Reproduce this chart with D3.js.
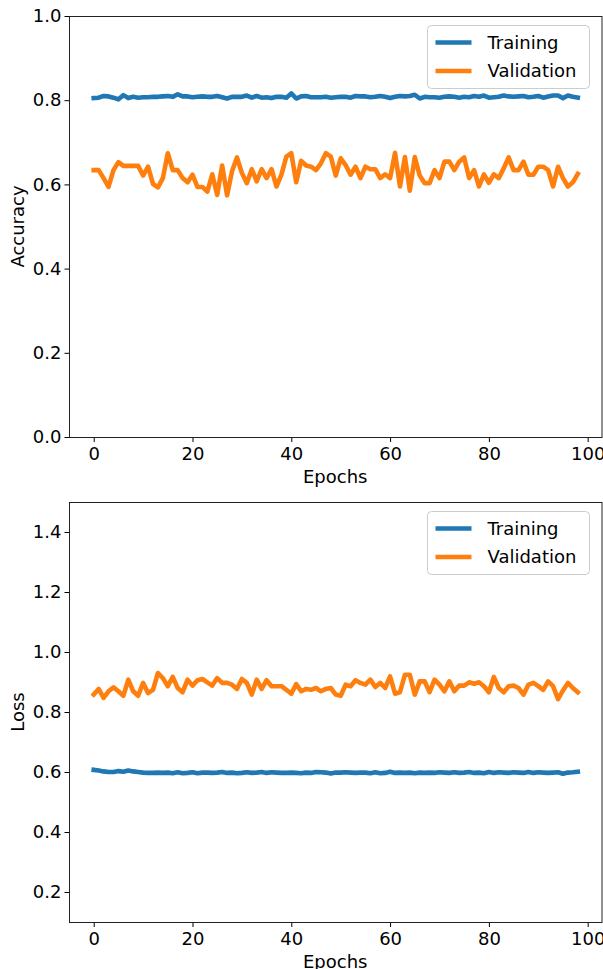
<!DOCTYPE html>
<html>
<meta charset="utf-8">
<head>
<style>
body { margin: 0; background: #fff; }
text { font-family: "DejaVu Sans", sans-serif; fill: #000; }
.tick text { font-size: 18px; }
.label { font-size: 18px; text-anchor: middle; }
.legend text { font-size: 18px; }
</style>
<script src="https://d3js.org/d3.v7.min.js"></script>
</head>
<body>
<svg width="603" height="969"></svg>
<script>
// training history, epochs 0..98
var epochs = d3.range(0, 99);

var trainAcc = [
  0.805, 0.806, 0.810, 0.809, 0.806, 0.802, 0.812, 0.805, 0.808, 0.806, 0.807, 0.807, 0.808, 0.808, 0.809, 0.810, 0.808, 0.814, 0.809, 0.809, 0.807, 0.808, 0.809, 0.808, 0.808,
  0.810, 0.807, 0.804, 0.808, 0.808, 0.808, 0.811, 0.806, 0.810, 0.806, 0.807, 0.805, 0.808, 0.808, 0.806, 0.816, 0.804, 0.809, 0.810, 0.807, 0.807, 0.807, 0.808, 0.806, 0.807,
  0.808, 0.808, 0.806, 0.810, 0.809, 0.809, 0.807, 0.808, 0.810, 0.808, 0.805, 0.808, 0.810, 0.809, 0.810, 0.813, 0.804, 0.808, 0.807, 0.807, 0.806, 0.808, 0.809, 0.808, 0.806,
  0.808, 0.807, 0.810, 0.808, 0.811, 0.806, 0.807, 0.808, 0.811, 0.809, 0.808, 0.809, 0.810, 0.807, 0.808, 0.810, 0.806, 0.809, 0.811, 0.811, 0.805, 0.811, 0.808, 0.806
];
var valAcc = [
  0.634, 0.634, 0.615, 0.594, 0.634, 0.653, 0.644, 0.644, 0.644, 0.644, 0.621, 0.642, 0.601, 0.593, 0.615, 0.674, 0.634, 0.634, 0.615, 0.605, 0.623, 0.594, 0.594, 0.583, 0.624,
  0.575, 0.645, 0.574, 0.631, 0.664, 0.627, 0.603, 0.636, 0.607, 0.636, 0.615, 0.636, 0.595, 0.623, 0.666, 0.674, 0.605, 0.656, 0.645, 0.642, 0.634, 0.650, 0.674, 0.666, 0.621,
  0.662, 0.646, 0.623, 0.642, 0.615, 0.642, 0.636, 0.636, 0.615, 0.624, 0.615, 0.675, 0.595, 0.665, 0.585, 0.665, 0.621, 0.603, 0.603, 0.634, 0.615, 0.654, 0.654, 0.634, 0.654,
  0.664, 0.615, 0.634, 0.595, 0.624, 0.604, 0.624, 0.615, 0.638, 0.664, 0.634, 0.634, 0.654, 0.623, 0.623, 0.642, 0.642, 0.634, 0.595, 0.642, 0.615, 0.595, 0.605, 0.625
];
var trainLoss = [
  0.607, 0.605, 0.602, 0.600, 0.600, 0.603, 0.601, 0.605, 0.602, 0.600, 0.598, 0.597, 0.597, 0.598, 0.597, 0.598, 0.596, 0.599, 0.596, 0.597, 0.599, 0.596, 0.598, 0.598, 0.597,
  0.598, 0.600, 0.597, 0.598, 0.596, 0.597, 0.599, 0.597, 0.598, 0.600, 0.597, 0.599, 0.598, 0.597, 0.597, 0.598, 0.597, 0.596, 0.598, 0.597, 0.600, 0.599, 0.598, 0.595, 0.598,
  0.598, 0.599, 0.598, 0.597, 0.598, 0.598, 0.596, 0.599, 0.596, 0.597, 0.601, 0.597, 0.598, 0.597, 0.598, 0.596, 0.598, 0.597, 0.598, 0.597, 0.599, 0.598, 0.597, 0.599, 0.597,
  0.598, 0.600, 0.597, 0.598, 0.596, 0.600, 0.597, 0.599, 0.598, 0.597, 0.599, 0.598, 0.597, 0.600, 0.597, 0.599, 0.598, 0.597, 0.598, 0.599, 0.594, 0.598, 0.599, 0.601
];
var valLoss = [
  0.858, 0.877, 0.847, 0.869, 0.882, 0.869, 0.854, 0.908, 0.869, 0.854, 0.897, 0.863, 0.874, 0.930, 0.913, 0.886, 0.917, 0.880, 0.866, 0.908, 0.888, 0.906, 0.910, 0.899, 0.888,
  0.913, 0.897, 0.897, 0.891, 0.877, 0.910, 0.897, 0.858, 0.908, 0.877, 0.906, 0.886, 0.886, 0.886, 0.874, 0.861, 0.893, 0.869, 0.877, 0.874, 0.880, 0.869, 0.877, 0.880, 0.858,
  0.854, 0.891, 0.886, 0.906, 0.897, 0.891, 0.908, 0.883, 0.897, 0.880, 0.919, 0.861, 0.866, 0.924, 0.924, 0.858, 0.902, 0.902, 0.866, 0.908, 0.891, 0.869, 0.902, 0.869, 0.888,
  0.888, 0.899, 0.894, 0.899, 0.886, 0.866, 0.917, 0.880, 0.866, 0.886, 0.888, 0.880, 0.858, 0.891, 0.897, 0.886, 0.874, 0.902, 0.886, 0.843, 0.872, 0.897, 0.880, 0.866
];

var seriesNames = ["Training", "Validation"];
var xTicks = [0, 20, 40, 60, 80, 100];
var accTicks = [0.0, 0.2, 0.4, 0.6, 0.8, 1.0];
var lossTicks = [0.2, 0.4, 0.6, 0.8, 1.0, 1.2, 1.4];

var colors = ["#1f77b4", "#ff7f0e"];
var svg = d3.select("svg");

function panel(top, bottom, ydomain, yticks, ylabel, train, val) {
  var left = 69.5, right = 602;
  var x = d3.scaleLinear().domain([-4.9, 102.9]).range([left, right]);
  var y = d3.scaleLinear().domain(ydomain).range([bottom, top]);
  var g = svg.append("g");

  var line = d3.line()
      .x(function(d, i) { return x(epochs[i]); })
      .y(function(d) { return y(d); });

  [train, val].forEach(function(s, k) {
    g.append("path")
        .datum(s)
        .attr("d", line)
        .attr("fill", "none")
        .attr("stroke", colors[k])
        .attr("stroke-width", 4.6)
        .attr("stroke-linejoin", "round")
        .attr("stroke-linecap", "square");
  });

  var xa = g.append("g")
      .attr("transform", "translate(0," + bottom + ")")
      .call(d3.axisBottom(x).tickValues(xTicks).tickFormat(d3.format("d")).tickSize(5).tickPadding(5));
  var ya = g.append("g")
      .attr("transform", "translate(" + left + ",0)")
      .call(d3.axisLeft(y).tickValues(yticks).tickFormat(d3.format(".1f")).tickSize(5).tickPadding(3));
  [xa, ya].forEach(function(a) {
    a.select(".domain").remove();
    a.selectAll(".tick line").attr("stroke", "#000").attr("stroke-width", 1);
    a.selectAll(".tick text").attr("fill", "#000");
  });

  g.append("rect")
      .attr("x", left).attr("y", top + 0.5)
      .attr("width", right - left).attr("height", bottom - top)
      .attr("fill", "none").attr("stroke", "#222").attr("stroke-width", 1);

  g.append("text").attr("class", "label")
      .attr("x", (left + right) / 2 - 0.5).attr("y", bottom + 46)
      .text("Epochs");
  g.append("text").attr("class", "label")
      .attr("transform", "translate(24," + (top + bottom) / 2 + ") rotate(-90)")
      .text(ylabel);

  // legend
  var lg = g.append("g").attr("class", "legend")
      .attr("transform", "translate(427.5," + (top + 9.5) + ")");
  lg.append("rect")
      .attr("width", 162).attr("height", 63)
      .attr("rx", 4).attr("ry", 4)
      .attr("fill", "#fff").attr("fill-opacity", 0.8)
      .attr("stroke", "#ccc").attr("stroke-width", 1);
  seriesNames.forEach(function(name, k) {
    var ly = 17 + k * 28.5;
    lg.append("line")
        .attr("x1", 8).attr("x2", 44)
        .attr("y1", ly).attr("y2", ly)
        .attr("stroke", colors[k]).attr("stroke-width", 4.6);
    lg.append("text")
        .attr("x", 60).attr("y", ly).attr("dy", "0.36em")
        .text(name);
  });
}

panel(16, 437, [0, 1], accTicks, "Accuracy", trainAcc, valAcc);
panel(502, 922, [0.1, 1.5], lossTicks, "Loss", trainLoss, valLoss);
</script>
</body>
</html>
